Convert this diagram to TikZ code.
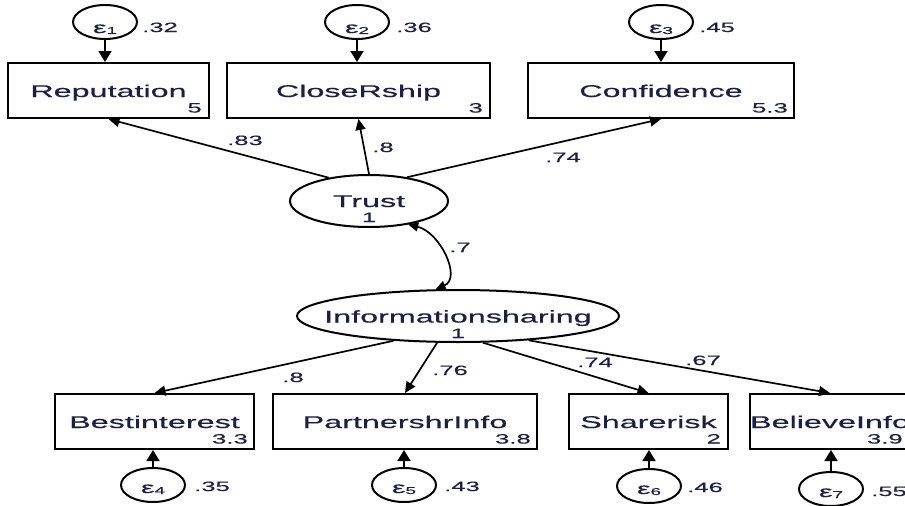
\documentclass[tikz,border=0pt]{standalone}
\usepackage{fontspec}
\setmainfont{Liberation Sans}[FakeStretch=1.9,FakeBold=0.3]
\usetikzlibrary{arrows.meta,shapes.geometric}
\definecolor{ink}{RGB}{28,32,66}

\begin{document}
\begin{tikzpicture}[x=1pt,y=-1pt,
  every node/.style={text=ink, font=\fontsize{17}{19}\selectfont},
  obs/.style={draw=black, line width=2pt, rectangle, minimum height=55pt,
    inner sep=0pt, text height=13pt, text depth=0pt},
  lat/.style={draw=black, line width=2pt, ellipse, minimum height=52pt,
    inner sep=0pt},
  err/.style={draw=black, line width=2pt, ellipse, minimum width=64pt,
    minimum height=34pt, inner sep=0pt},
  num/.style={font=\fontsize{13.5}{15}\selectfont, inner sep=0pt},
  latname/.style={inner sep=0pt, anchor=base},
  elab/.style={font=\fontsize{16}{18}\selectfont, inner sep=0pt, anchor=base},
  load/.style={line width=1.7pt, -{Triangle[length=11pt,width=10pt]}},
  erra/.style={line width=1.7pt, -{Triangle[length=11pt,width=13pt]}},
  cov/.style={line width=1.7pt,
    {Triangle[length=10pt,width=9pt]}-{Triangle[length=10pt,width=9pt]}},
]
\useasboundingbox (0,0) rectangle (905,506);
\fill[white] (0,0) rectangle (905,506);
\clip (0,0) rectangle (905,506);

% latent variables
\node[lat, minimum width=158pt] (trust) at (369,201) {};
\node[latname] (trustt) at ([yshift=-6pt]trust.center) {Trust};
\node[num, anchor=base] (trust1) at ([yshift=-21pt]trust.center) {1};
\node[lat, minimum width=322pt] (info) at (458,316) {};
\node[latname] (infot) at ([yshift=-6.5pt]info.center) {Informationsharing};
\node[num, anchor=base] (info1) at ([yshift=-22pt]info.center) {1};

% indicators of Trust
\node[obs, minimum width=201pt] (rep)   at (108.5,90.5) {Reputation};
\node[obs, minimum width=263pt] (close) at (358.5,90.5) {CloseRship};
\node[obs, minimum width=266pt] (conf)  at (661,90.5)   {Confidence};
\node[num, anchor=base east] (repn)   at ([xshift=-8pt,yshift=6.5pt]rep.south east) {5};
\node[num, anchor=base east] (closen) at ([xshift=-8pt,yshift=6.5pt]close.south east) {3};
\node[num, anchor=base east] (confn)  at ([xshift=-7pt,yshift=6.5pt]conf.south east) {5.3};

% indicators of Informationsharing
\node[obs, minimum width=199pt] (best)    at (154.5,421.5) {Bestinterest};
\node[obs, minimum width=264pt] (part)    at (405,421.5)   {PartnershrInfo};
\node[obs, minimum width=159pt] (share)   at (648.5,421.5) {Sharerisk};
\node[obs, minimum width=156pt] (believe) at (830,421.5)   {BelieveInfo};
\node[num, anchor=base east] (bestn)    at ([xshift=-7pt,yshift=6.5pt]best.south east) {3.3};
\node[num, anchor=base east] (partn)    at ([xshift=-7pt,yshift=6.5pt]part.south east) {3.8};
\node[num, anchor=base east] (sharen)   at ([xshift=-8pt,yshift=6.5pt]share.south east) {2};
\node[num, anchor=base east] (believen) at ([xshift=-8pt,yshift=6.5pt]believe.south east) {3.9};

% error terms
\node[err] (e1) at (105,22) {};
\node[err] (e2) at (357,22) {};
\node[err] (e3) at (661,22) {};
\node[err] (e4) at (153,485) {};
\node[err] (e5) at (404,485) {};
\node[err] (e6) at (649,486) {};
\node[err] (e7) at (831,489) {};
\newcommand{\epsl}[1]{ε\raisebox{-1pt}{\fontsize{10}{12}\selectfont #1}}
\node[elab] (e1t) at ([yshift=-11pt]e1.center) {\epsl{1}};
\node[elab] (e2t) at ([yshift=-11pt]e2.center) {\epsl{2}};
\node[elab] (e3t) at ([yshift=-11pt]e3.center) {\epsl{3}};
\node[elab] (e4t) at ([yshift=-8pt]e4.center) {\epsl{4}};
\node[elab] (e5t) at ([yshift=-8pt]e5.center) {\epsl{5}};
\node[elab] (e6t) at ([yshift=-8pt]e6.center) {\epsl{6}};
\node[elab] (e7t) at ([yshift=-8pt]e7.center) {\epsl{7}};

% error variances
\node[num, anchor=base west] (v1) at (142,32)  {.32};
\node[num, anchor=base west] (v2) at (396,32)  {.36};
\node[num, anchor=base west] (v3) at (699,32)  {.45};
\node[num, anchor=base west] (v4) at (194,491) {.35};
\node[num, anchor=base west] (v5) at (444,491) {.43};
\node[num, anchor=base west] (v6) at (687,492) {.46};
\node[num, anchor=base west] (v7) at (871,496) {.55};

% error paths
\draw[erra] (e1.south) -- (e1.south |- rep.north);
\draw[erra] (e2.south) -- (e2.south |- close.north);
\draw[erra] (e3.south) -- (e3.south |- conf.north);
\draw[erra] (e4.north) -- (e4.north |- best.south);
\draw[erra] (e5.north) -- (e5.north |- part.south);
\draw[erra] (e6.north) -- (e6.north |- share.south);
\draw[erra] (e7.north) -- (e7.north |- believe.south);

% loadings
\draw[load] (trust.150) -- (rep.south);
\draw[load] (trust.north) -- (close.south);
\draw[load] (trust.32) -- (conf.south);
\draw[load] (info.201) -- (best.north);
\draw[load] (info.232) -- (part.north);
\draw[load] (info.313) -- (share.north);
\draw[load] (info.341) -- (believe.north);

% covariance
\draw[cov] (trust.329) .. controls (440,232) and (462,278) .. (info.130);

% coefficient labels
\node[num, anchor=base] (c1) at (245,145) {.83};
\node[num, anchor=base] (c2) at (383,152) {.8};
\node[num, anchor=base] (c3) at (563,162) {.74};
\node[num, anchor=base] (c4) at (460,252) {.7};
\node[num, anchor=base] (c5) at (293,382) {.8};
\node[num, anchor=base] (c6) at (450,375) {.76};
\node[num, anchor=base] (c7) at (595,367) {.74};
\node[num, anchor=base] (c8) at (703,365) {.67};
\end{tikzpicture}
\end{document}
